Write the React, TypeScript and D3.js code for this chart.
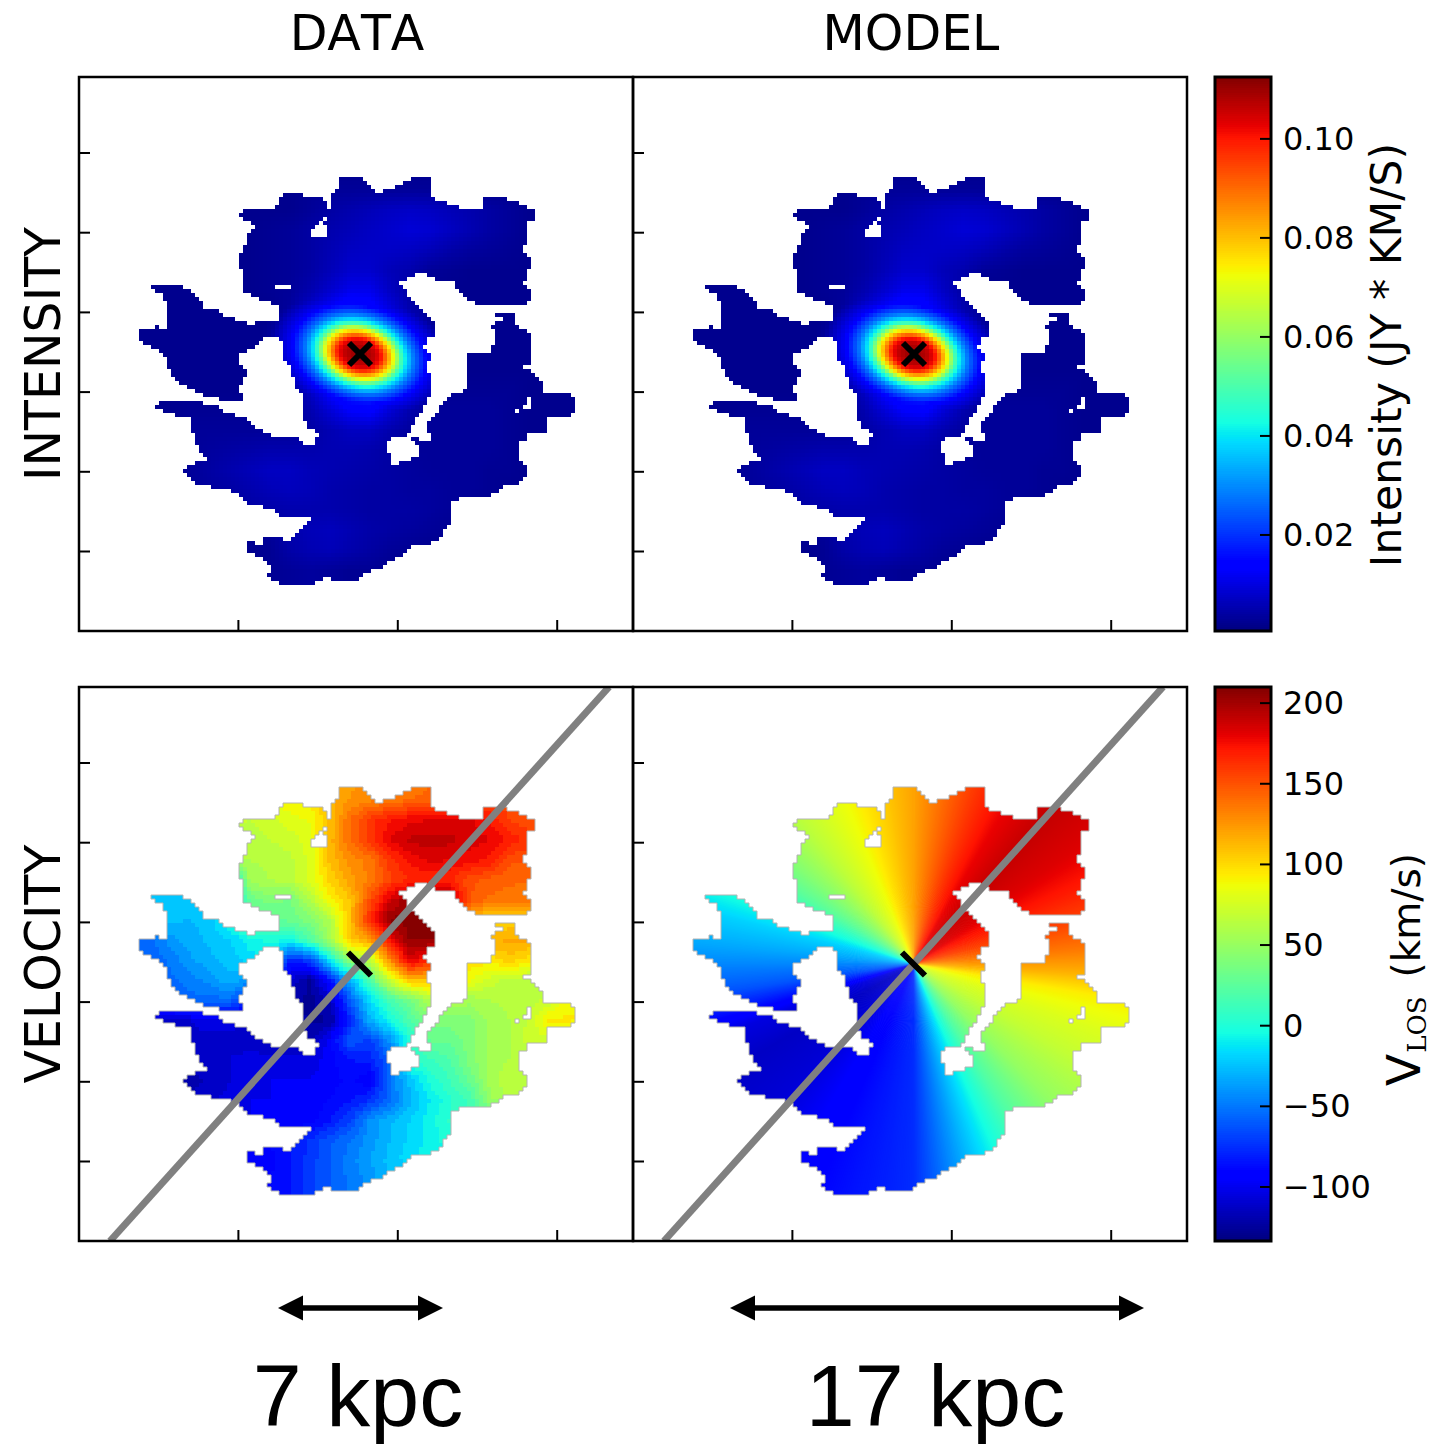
import { useMemo } from "react";
import * as d3 from "d3";

// everything "map" below: x in 79..633, y in 77..631 of the top left panel
const PANEL_SIZE = 554;
const PANEL_X = [79, 633];
const PANEL_Y = [77, 687];
const COLORBAR_X = 1215;
const COLORBAR_WIDTH = 56;

const COLUMN_TITLES = ["DATA", "MODEL"];
const X_TICKS = [238.4, 397.8, 557.2];
const Y_TICKS = [153, 232.7, 312.4, 392.1, 471.8, 551.5];

const INTENSITY_DOMAIN = [0.0006, 0.1125];
const INTENSITY_TICKS = [0.02, 0.04, 0.06, 0.08, 0.1];
const VELOCITY_DOMAIN = [-133.5, 210];
const VELOCITY_TICKS = [-100, -50, 0, 50, 100, 150, 200];

const GALAXY_OUTLINE: [number, number][] = [
  [240, 217], [246, 209], [278, 209], [281, 200], [284, 194], [303, 194], [307, 198], [323, 200], [329, 208], [329, 213],
  [333, 210], [332, 197], [337, 193], [341, 182], [346, 177], [357, 177], [365, 181], [373, 190], [377, 195], [387, 192],
  [397, 189], [417, 177], [429, 177], [432, 182], [432, 193], [429, 195], [435, 198], [438, 204], [457, 205], [457, 208],
  [473, 212], [483, 212], [483, 203], [487, 199], [507, 199], [508, 202], [518, 203], [527, 208], [534, 210], [537, 215],
  [536, 222], [528, 223], [527, 242], [523, 247], [514, 248], [523, 252], [530, 259], [530, 268], [527, 270], [525, 283],
  [530, 288], [530, 295], [533, 296], [527, 303], [513, 307], [492, 307], [491, 304], [477, 303], [467, 298], [458, 292],
  [455, 283], [438, 280], [428, 276], [420, 273], [412, 277], [400, 283], [405, 288], [410, 300], [423, 312], [435, 323],
  [435, 335], [428, 336], [428, 345], [425, 347], [426, 353], [435, 357], [426, 363], [430, 378], [432, 385], [432, 395],
  [423, 407], [420, 415], [410, 427], [412, 432], [403, 437], [385, 440], [387, 452], [391, 457], [391, 470], [398, 467],
  [403, 461], [423, 460], [422, 453], [413, 439], [432, 442], [429, 423], [438, 417], [444, 403], [452, 397], [470, 391],
  [470, 376], [467, 375], [467, 363], [471, 360], [470, 353], [492, 353], [496, 343], [495, 332], [492, 328], [498, 322],
  [505, 320], [498, 317], [502, 313], [512, 313], [517, 318], [515, 323], [527, 332], [533, 340], [533, 363], [524, 367],
  [535, 374], [543, 383], [546, 389], [540, 397], [547, 394], [565, 394], [575, 398], [577, 402], [577, 409], [568, 416],
  [547, 417], [549, 420], [549, 432], [530, 432], [527, 438], [521, 443], [521, 462], [527, 467], [527, 477], [517, 486],
  [502, 487], [493, 495], [460, 497], [453, 502], [452, 520], [445, 530], [437, 542], [415, 545], [400, 556], [380, 568],
  [367, 572], [363, 577], [353, 581], [323, 578], [317, 582], [315, 587], [285, 587], [283, 585], [268, 577], [272, 570],
  [265, 560], [248, 552], [247, 544], [256, 544], [258, 547], [263, 545], [266, 538], [282, 538], [285, 542], [292, 542],
  [298, 537], [307, 528], [313, 519], [285, 517], [275, 514], [274, 509], [250, 505], [243, 498], [237, 492], [223, 489],
  [203, 486], [193, 482], [183, 472], [193, 465], [208, 463], [202, 452], [195, 438], [193, 428], [195, 422], [188, 418],
  [177, 415], [165, 412], [157, 407], [162, 401], [179, 401], [180, 403], [202, 404], [220, 408], [228, 416], [243, 417],
  [257, 428], [268, 435], [275, 438], [297, 439], [305, 444], [315, 448], [316, 438], [323, 434], [309, 428], [305, 418],
  [305, 400], [297, 388], [295, 380], [293, 367], [285, 360], [284, 345], [277, 336], [262, 338], [257, 345], [248, 350],
  [238, 355], [237, 365], [249, 370], [243, 380], [240, 390], [243, 400], [225, 400], [205, 395], [183, 385], [175, 380],
  [170, 370], [170, 360], [158, 350], [148, 346], [139, 340], [140, 335], [145, 329], [155, 329], [155, 326], [158, 327],
  [158, 329], [167, 329], [167, 310], [170, 307], [167, 302], [160, 293], [155, 291], [154, 286], [183, 285], [185, 288],
  [195, 295], [202, 302], [203, 310], [217, 311], [225, 317], [240, 321], [249, 325], [257, 325], [257, 323], [278, 323],
  [282, 313], [278, 305], [267, 302], [253, 297], [245, 292], [243, 282], [246, 277], [242, 270], [240, 260], [243, 253],
  [243, 248], [247, 247], [247, 240], [251, 233], [258, 230], [250, 223], [242, 220],
];
const GALAXY_HOLES: [number, number][][] = [
  [[329, 213], [320, 223], [312, 228], [310, 233], [313, 237], [327, 237], [329, 232], [326, 225], [331, 215]],
  [[275, 285], [291, 285], [291, 289], [275, 289]],
  [[528, 397], [534, 397], [534, 409], [523, 411], [523, 406], [528, 404]],
  [[515, 409], [519, 409], [519, 413], [515, 413]],
  [[378, 474], [385, 472], [391, 470], [385, 476], [378, 476]],
];

const CENTRE = [359.5, 354];
const MAJOR_AXIS_ENDS = [[609, 77], [110, 631]];
const MINOR_AXIS_ENDS = [[348, 342.5], [371, 365.5]];
const CROSS_ENDS = [[[349, 343], [371, 365]], [[349, 365], [371, 343]]];

// brightness along the nucleus, by elliptical radius
const NUCLEUS_RADII = [0, 12, 17, 22, 27, 32, 36, 42, 54, 70, 90];
const NUCLEUS_VALUES = [112, 106, 100, 85, 70, 50, 40, 28, 12, 3, 0];

// lattice of both measured maps: every 20 of map x and y
const GRID_X = [130, 590];
const GRID_Y = [170, 590];

// mJy km/s
const INTENSITY_ROWS = [
  [2, 2, 2, 2, 2, 2, 2, 2, 2, 2, 2, 2, 2, 2, 2, 2, 2, 2, 2, 2, 2, 2, 2, 2],
  [2, 2, 2, 2, 2, 2, 2, 2, 2, 2.5, 3, 3, 3, 3, 3, 3, 2.5, 2, 2, 2, 2, 2, 2, 2],
  [2, 2, 2, 2, 2, 2, 2, 2, 2, 3, 4, 5, 6, 7, 7.5, 7, 6, 5, 4, 3, 2, 2, 2, 2],
  [2, 2, 2, 2, 2, 2, 2, 2.5, 3, 4, 5, 6, 7, 8, 9, 8.5, 7, 5.5, 4, 3, 2, 2, 2, 2],
  [2, 2, 2, 2, 2, 2, 2, 2.5, 3, 4, 5.5, 7, 7.5, 7.5, 7, 6, 4.5, 3.5, 3, 2.5, 2, 2, 2, 2],
  [2, 2, 2, 2, 2, 2, 2, 2.5, 3, 4, 6, 8, 8, 6, 5, 3, 2.5, 2, 2, 2, 2, 2, 2, 2],
  [2, 2, 2, 2, 2, 2, 2, 2.5, 3, 5, 8, 11, 11, 7, 4, 2, 2, 2, 2, 2, 2, 2, 2, 2],
  [2, 2, 2, 2, 2, 2, 2, 2, 3.5, 8, 13, 17, 15, 10, 5, 3, 2, 2, 2, 2, 2, 2, 2, 2],
  [2, 2, 2, 2, 2, 2, 2, 2, 4, 10, 20, 26, 24, 18, 8, 3, 2, 2, 2, 2, 2, 2, 2, 2],
  [2, 2, 2, 2, 2, 2, 2, 2, 4, 10, 24, 35, 35, 22, 8, 3, 2, 2, 2, 2, 2, 2, 2, 2],
  [2, 2, 2, 2, 2, 2, 2, 2, 3.5, 9, 20, 26, 28, 20, 9, 3, 2, 2, 2, 2, 2, 2, 2, 2],
  [2, 2, 2, 2, 2, 2, 2, 2, 3, 7, 14, 19, 20, 14, 7, 3, 2.5, 2.5, 2.5, 2.5, 2, 2, 2, 2],
  [2, 2, 2, 2.5, 2.5, 2.5, 2.5, 2.5, 3, 5, 9, 13, 14, 9, 5, 3, 3, 3, 3, 2.5, 2, 2, 2, 2],
  [2, 2, 2, 3, 3, 3, 3, 3, 3, 4, 5.5, 7, 7, 5, 3.5, 3, 3, 3, 3, 2.5, 2, 2, 2, 2],
  [2, 2, 2, 3, 3.5, 4, 4.5, 5, 5, 5, 5.5, 5.5, 5, 4, 3, 3, 3, 3, 3, 2.5, 2, 2, 2, 2],
  [2, 2, 2, 3, 4, 5, 6, 7, 7, 6, 5.5, 5, 4.5, 4, 3.5, 3, 3, 3, 2.5, 2.5, 2, 2, 2, 2],
  [2, 2, 2, 3, 3.5, 4, 5, 6, 6.5, 6, 5, 4.5, 4, 4, 3.5, 3.5, 3, 3, 2.5, 2, 2, 2, 2, 2],
  [2, 2, 2, 2, 3, 3, 4, 4.5, 5, 5, 5, 4.5, 4, 4, 4, 3.5, 3, 2.5, 2, 2, 2, 2, 2, 2],
  [2, 2, 2, 2, 2, 2, 2.5, 3, 5, 6, 6.5, 5.5, 4.5, 4, 3.5, 3, 2.5, 2, 2, 2, 2, 2, 2, 2],
  [2, 2, 2, 2, 2, 2, 2, 2.5, 4.5, 5.5, 6, 5, 4, 3, 2.5, 2, 2, 2, 2, 2, 2, 2, 2, 2],
  [2, 2, 2, 2, 2, 2, 2, 2.5, 3, 3.5, 3, 2.5, 2.5, 2, 2, 2, 2, 2, 2, 2, 2, 2, 2, 2],
  [2, 2, 2, 2, 2, 2, 2, 2.5, 3, 3.5, 3, 2.5, 2.5, 2, 2, 2, 2, 2, 2, 2, 2, 2, 2, 2],
];

// km/s
const VELOCITY_ROWS = [
  [70, 70, 70, 70, 70, 70, 72, 80, 92, 92, 112, 120, 125, 130, 135, 140, 150, 155, 150, 150, 140, 140, 140, 140],
  [70, 70, 70, 70, 70, 70, 72, 80, 92, 92, 112, 125, 130, 135, 140, 142, 155, 158, 155, 150, 145, 140, 140, 140],
  [70, 70, 70, 70, 70, 70, 68, 72, 80, 85, 110, 140, 160, 172, 178, 180, 182, 182, 170, 155, 150, 150, 150, 150],
  [65, 65, 65, 65, 65, 65, 65, 68, 72, 80, 112, 140, 160, 180, 190, 192, 190, 185, 180, 170, 160, 150, 150, 150],
  [60, 60, 60, 60, 60, 60, 60, 62, 66, 78, 110, 128, 135, 160, 175, 182, 180, 175, 170, 150, 148, 148, 148, 148],
  [-25, -25, -25, -25, -25, -25, 55, 60, 65, 78, 102, 120, 135, 155, 165, 165, 165, 150, 145, 142, 140, 140, 140, 140],
  [-25, -25, -25, -27, -27, -25, 30, 40, 35, 60, 90, 108, 150, 185, 205, 210, 200, 148, 138, 136, 136, 136, 136, 136],
  [-30, -28, -27, -28, -25, 0, 25, 25, 30, 40, 60, 110, 165, 205, 210, 210, 200, 110, 100, 100, 100, 100, 100, 100],
  [-55, -55, -40, -32, -26, -20, -8, 0, -5, 20, 55, 105, 120, 175, 205, 205, 200, 120, 115, 118, 118, 100, 100, 100],
  [-60, -60, -50, -38, -30, -25, -15, -15, -80, -70, -10, 50, 65, 130, 185, 165, 130, 100, 95, 105, 95, 80, 80, 80],
  [-60, -62, -55, -48, -40, -30, -40, -60, -110, -125, -85, -30, 20, 72, 110, 110, 100, 85, 72, 65, 65, 70, 70, 70],
  [-60, -60, -60, -55, -55, -55, -80, -100, -115, -128, -115, -60, -15, 15, 35, 60, 60, 55, 60, 62, 65, 70, 90, 90],
  [-110, -110, -110, -108, -105, -105, -110, -115, -120, -125, -125, -80, -30, -5, 20, 40, 40, 42, 55, 60, 70, 95, 93, 90],
  [-110, -110, -110, -110, -110, -110, -112, -115, -120, -120, -95, -60, -70, -40, 0, 30, 30, 40, 55, 60, 72, 72, 72, 72],
  [-112, -112, -112, -112, -112, -108, -105, -105, -105, -105, -95, -85, -80, -60, 5, 10, 20, 40, 55, 60, 60, 60, 60, 60],
  [-118, -118, -118, -118, -115, -108, -102, -100, -100, -100, -95, -90, -100, -50, -25, 0, 12, 30, 55, 68, 68, 68, 68, 68],
  [-115, -115, -115, -115, -110, -105, -100, -100, -100, -98, -92, -85, -75, -55, -30, -12, 2, 15, 50, 60, 60, 60, 60, 60],
  [-100, -100, -100, -100, -100, -100, -100, -100, -100, -95, -85, -70, -42, -30, -20, -8, 5, 15, 15, 15, 15, 15, 15, 15],
  [-90, -90, -90, -90, -90, -90, -90, -90, -85, -75, -62, -52, -40, -28, -18, -8, 0, 0, 0, 0, 0, 0, 0, 0],
  [-100, -100, -100, -100, -100, -100, -100, -95, -85, -72, -60, -48, -36, -25, -15, -8, -8, -8, -8, -8, -8, -8, -8, -8],
  [-95, -95, -95, -95, -95, -95, -95, -92, -85, -72, -60, -50, -40, -30, -30, -30, -30, -30, -30, -30, -30, -30, -30, -30],
  [-95, -95, -95, -95, -95, -95, -95, -92, -85, -72, -60, -50, -40, -30, -30, -30, -30, -30, -30, -30, -30, -30, -30, -30],
];

// model velocity against position angle (clockwise from north)
const MODEL_ANGLES = [0, 10, 20, 30, 42, 55, 65, 75, 85, 93, 100, 110, 120, 135, 148, 160, 170, 180, 195, 210, 225, 240, 250, 262, 275, 284, 292, 302, 310, 322, 340, 350, 360];
const MODEL_VELOCITIES = [120, 140, 160, 178, 190, 182, 170, 155, 135, 115, 92, 78, 68, 48, 20, -15, -45, -76, -85, -95, -108, -113, -105, -62, -35, -20, 0, 25, 42, 65, 90, 105, 120];

const SCALE_BARS = [
  { label: "7 kpc", x0: 278, x1: 443, labelX: 358 },
  { label: "17 kpc", x0: 730, x1: 1144, labelX: 935.5 },
];

const SIDE_LABELS = [
  { label: "INTENSITY", cy: 354 },
  { label: "VELOCITY", cy: 964 },
];

const jetR = d3.scaleLinear([0, 0.35, 0.66, 0.89, 1], [0, 0, 1, 1, 0.5]).clamp(true);
const jetG = d3.scaleLinear([0, 0.125, 0.375, 0.64, 0.91, 1], [0, 0, 1, 1, 0, 0]).clamp(true);
const jetB = d3.scaleLinear([0, 0.11, 0.34, 0.65, 1], [0.5, 1, 1, 0, 0]).clamp(true);
const jet = (t: number) =>
  d3.rgb(jetR(t) * 255, jetG(t) * 255, jetB(t) * 255).formatRgb();

const x = d3.scaleLinear([79, 633], [0, PANEL_SIZE]);
const y = d3.scaleLinear([77, 631], [0, PANEL_SIZE]);
const line = d3.line<number[]>().x((d) => x(d[0])).y((d) => y(d[1]));

const gridCol = d3.scaleLinear(GRID_X, [0, INTENSITY_ROWS[0].length - 1]).clamp(true);
const gridRow = d3.scaleLinear(GRID_Y, [0, INTENSITY_ROWS.length - 1]).clamp(true);

function sampleGrid(rows: number[][], mx: number, my: number) {
  const c = gridCol(mx);
  const r = gridRow(my);
  const c0 = Math.min(Math.floor(c), rows[0].length - 2);
  const r0 = Math.min(Math.floor(r), rows.length - 2);
  const top = d3.interpolateNumber(rows[r0][c0], rows[r0][c0 + 1])(c - c0);
  const bottom = d3.interpolateNumber(rows[r0 + 1][c0], rows[r0 + 1][c0 + 1])(c - c0);
  return d3.interpolateNumber(top, bottom)(r - r0);
}

const nucleus = d3.scaleLinear(NUCLEUS_RADII, NUCLEUS_VALUES).clamp(true);
function intensityAt(mx: number, my: number) {
  const dx = mx - CENTRE[0];
  const dy = my - CENTRE[1];
  const u = dx * 0.97 + dy * 0.24;
  const v = -dx * 0.24 + dy * 0.97;
  const rho = Math.hypot(u / 1.3, v / 0.92);
  return Math.max(sampleGrid(INTENSITY_ROWS, mx, my), nucleus(rho)) / 1000;
}

const intensityT = d3.scaleLinear(INTENSITY_DOMAIN, [0, 1]).clamp(true);
const velocityT = d3.scaleLinear(VELOCITY_DOMAIN, [0, 1]).clamp(true);
const modelVelocity = d3.scaleLinear(MODEL_ANGLES, MODEL_VELOCITIES);

// the maps are pixelated, so the galaxy mask is built from square cells
const CELL = 4;
const isInside = (p: [number, number]) =>
  d3.polygonContains(GALAXY_OUTLINE, p) && !GALAXY_HOLES.some((h) => d3.polygonContains(h, p));

const MASK: { mx: number; my: number }[] = [];
const maskKeys = new Set<string>();
for (const my of d3.range(177, 589, CELL)) {
  for (const mx of d3.range(139, 579, CELL)) {
    if (isInside([mx + CELL / 2, my + CELL / 2]) || isInside([mx + 3.5, my + 3.5])) {
      MASK.push({ mx, my });
      maskKeys.add(mx + "_" + my);
    }
  }
}
const MASK_PATH = MASK.map((c) => `M${x(c.mx)},${y(c.my)}h${CELL}v${CELL}h${-CELL}Z`).join("");
const EDGE_PATH = MASK.map(({ mx, my }) => {
  const px = x(mx);
  const py = y(my);
  let d = "";
  if (!maskKeys.has(mx + "_" + (my - CELL))) d += `M${px},${py}h${CELL}`;
  if (!maskKeys.has(mx + "_" + (my + CELL))) d += `M${px},${py + CELL}h${CELL}`;
  if (!maskKeys.has(mx - CELL + "_" + my)) d += `M${px},${py}v${CELL}`;
  if (!maskKeys.has(mx + CELL + "_" + my)) d += `M${px + CELL},${py}v${CELL}`;
  return d;
}).join("");

const Cells = ({ colorAt }: { colorAt: (mx: number, my: number) => string }) => {
  const cells = useMemo(
    () => MASK.map((c) => ({ ...c, fill: colorAt(c.mx + CELL / 2, c.my + CELL / 2) })),
    [colorAt]
  );
  return (
    <g shapeRendering="crispEdges">
      {cells.map((c) => (
        <rect key={c.mx + "_" + c.my} x={x(c.mx)} y={y(c.my)} width={CELL} height={CELL} fill={c.fill} />
      ))}
    </g>
  );
};

const ModelWedges = () => {
  const arc = d3.arc();
  const angles = d3.range(0, 360, 0.5);
  return (
    <g transform={`translate(${x(CENTRE[0])},${y(CENTRE[1])})`}>
      {angles.map((a) => (
        <path
          key={a}
          d={arc({
            innerRadius: 0,
            outerRadius: 560,
            startAngle: (a * Math.PI) / 180,
            endAngle: ((a + 1) * Math.PI) / 180,
          }) as string}
          fill={jet(velocityT(modelVelocity(a + 0.25)))}
        />
      ))}
    </g>
  );
};

const Frame = () => (
  <g>
    <rect width={PANEL_SIZE} height={PANEL_SIZE} fill="none" stroke="#000" strokeWidth={2.5} />
    {Y_TICKS.map((t) => (
      <line key={t} x1={0} x2={11} y1={y(t)} y2={y(t)} stroke="#000" strokeWidth={2} />
    ))}
    {X_TICKS.map((t) => (
      <line key={t} x1={x(t)} x2={x(t)} y1={PANEL_SIZE} y2={PANEL_SIZE - 11} stroke="#000" strokeWidth={2} />
    ))}
  </g>
);

const Colorbar = ({ top, domain, ticks, format }: { top: number; domain: number[]; ticks: number[]; format: (v: number) => string }) => {
  const scale = d3.scaleLinear(domain, [top + PANEL_SIZE, top]);
  const steps = d3.range(0, 1, 1 / 256);
  return (
    <g>
      <g shapeRendering="crispEdges">
        {steps.map((s) => (
          <rect
            key={s}
            x={COLORBAR_X}
            width={COLORBAR_WIDTH}
            y={top + PANEL_SIZE * (1 - s) - PANEL_SIZE / 256 - 0.5}
            height={PANEL_SIZE / 256 + 1}
            fill={jet(s)}
          />
        ))}
      </g>
      <rect x={COLORBAR_X} y={top} width={COLORBAR_WIDTH} height={PANEL_SIZE} fill="none" stroke="#000" strokeWidth={3} />
      {ticks.map((t) => (
        <g key={t}>
          <line x1={COLORBAR_X + COLORBAR_WIDTH - 11} x2={COLORBAR_X + COLORBAR_WIDTH} y1={scale(t)} y2={scale(t)} stroke="#000" strokeWidth={2} />
          <text x={1283} y={scale(t)} dy="0.34em" fontFamily="DejaVu Sans" fontSize={32} fill="#000">
            {format(t)}
          </text>
        </g>
      ))}
    </g>
  );
};

const dataIntensity = (mx: number, my: number) => jet(intensityT(intensityAt(mx, my)));
// the measured velocities come in flat bins
const dataVelocity = (mx: number, my: number) =>
  jet(velocityT(Math.round(sampleGrid(VELOCITY_ROWS, mx, my) / 8) * 8));

export default function App() {
  return (
    <svg width={1447} height={1445} style={{ position: "absolute", left: 0, top: 0, display: "block", fontKerning: "none" }}>
      <defs>
        <clipPath id="galaxy">
          <path d={MASK_PATH} />
        </clipPath>
        <clipPath id="panel">
          <rect width={PANEL_SIZE} height={PANEL_SIZE} />
        </clipPath>
      </defs>

      {COLUMN_TITLES.map((t, i) => (
        <text key={t} x={PANEL_X[i] + 278} y={50} textAnchor="middle" fontFamily="DejaVu Sans" fontSize={49} fill="#000">
          {t}
        </text>
      ))}
      {SIDE_LABELS.map((s) => (
        <text
          key={s.label}
          transform={`translate(60,${s.cy}) rotate(-90)`}
          textAnchor="middle"
          fontFamily="DejaVu Sans"
          fontSize={49}
          fill="#000"
        >
          {s.label}
        </text>
      ))}

      {PANEL_X.map((px, col) => (
        <g key={"i" + col} transform={`translate(${px},${PANEL_Y[0]})`}>
          <Cells colorAt={dataIntensity} />
          {CROSS_ENDS.map((ends, i) => (
            <path key={i} d={line(ends) as string} stroke="#000" strokeWidth={6} fill="none" />
          ))}
          <Frame />
        </g>
      ))}

      {PANEL_X.map((px, col) => (
        <g key={"v" + col} transform={`translate(${px},${PANEL_Y[1]})`}>
          {col === 0 ? (
            <Cells colorAt={dataVelocity} />
          ) : (
            <g clipPath="url(#galaxy)">
              <ModelWedges />
            </g>
          )}
          <path d={EDGE_PATH} fill="none" stroke="#b4b4b4" strokeWidth={1} />
          <g clipPath="url(#panel)">
            <path d={line(MAJOR_AXIS_ENDS) as string} stroke="#808080" strokeWidth={7} fill="none" />
          </g>
          <path d={line(MINOR_AXIS_ENDS) as string} stroke="#000" strokeWidth={6} fill="none" />
          <Frame />
        </g>
      ))}

      <Colorbar top={PANEL_Y[0]} domain={INTENSITY_DOMAIN} ticks={INTENSITY_TICKS} format={(v) => v.toFixed(2)} />
      <Colorbar top={PANEL_Y[1]} domain={VELOCITY_DOMAIN} ticks={VELOCITY_TICKS} format={(v) => String(v).replace("-", "\u2212")} />

      <text transform="translate(1401,355) rotate(-90)" textAnchor="middle" fontFamily="DejaVu Sans" fontSize={42.5} fill="#000">
        Intensity (JY * KM/S)
      </text>
      <text transform="translate(1420,1086) rotate(-90)" fontFamily="DejaVu Sans" fontSize={47} fill="#000">
        V
        <tspan dy={6} dx={1} fontFamily="DejaVu Serif" fontSize={26}>LOS</tspan>
        <tspan dy={-6} dx={19} fontSize={39}>(km/s)</tspan>
      </text>

      {SCALE_BARS.map((b) => {
        const yBar = 1308;
        const head = 25;
        const half = 12.5;
        return (
          <g key={b.label}>
            <line x1={b.x0 + head} x2={b.x1 - head} y1={yBar} y2={yBar} stroke="#000" strokeWidth={5.5} />
            <polygon points={`${b.x0},${yBar} ${b.x0 + head},${yBar - half} ${b.x0 + head},${yBar + half}`} fill="#000" />
            <polygon points={`${b.x1},${yBar} ${b.x1 - head},${yBar - half} ${b.x1 - head},${yBar + half}`} fill="#000" />
            <text x={b.labelX} y={1426} textAnchor="middle" fontFamily="Liberation Sans" fontSize={88} fill="#000">
              {b.label}
            </text>
          </g>
        );
      })}
    </svg>
  );
}
